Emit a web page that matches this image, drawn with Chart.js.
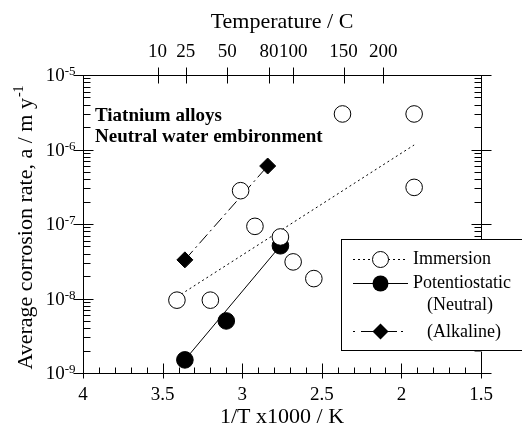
<!DOCTYPE html>
<html>
<head>
<meta charset="utf-8">
<script src="https://cdn.jsdelivr.net/npm/chart.js@4.4.0/dist/chart.umd.min.js"></script>
<style>
  body { margin: 0; background: #fff; }
  #wrap { width: 522px; height: 430px; }
</style>
</head>
<body>
<div id="wrap"><canvas id="chartCanvas" width="522" height="430"></canvas></div>
<script>
  // === Data ===
  const immersionX = [3.41, 3.20, 3.01, 2.92, 2.37, 1.92, 1.92, 2.76, 2.68, 2.55];
  const immersionY = [9.5e-9, 9.5e-9, 2.8e-7, 9.3e-8, 3.0e-6, 3.0e-6, 3.1e-7, 6.7e-8, 3.1e-8, 1.85e-8];
  const immersionFitX = [3.41, 1.92];
  const immersionFitY = [1.05e-8, 1.15e-6];
  const neutralX = [3.36, 3.10, 2.76];
  const neutralY = [1.5e-9, 5.0e-9, 5.1e-8];
  const neutralFitX = [3.36, 2.76];
  const neutralFitY = [1.5e-9, 5.1e-8];
  const alkalineX = [3.36, 2.84];
  const alkalineY = [3.3e-8, 6.0e-7];
  const tempLabels = [10, 25, 50, 80, 100, 150, 200];
  const yDecades = [-9, -8, -7, -6, -5];

  const SERIF = '"Liberation Serif", "Times New Roman", serif';
  const pts = (xs, ys) => xs.map((v, i) => ({ x: v, y: ys[i] }));

  // === Ticks, box, y labels, legend and note ===
  const decor = {
    id: 'decor',
    afterDraw(chart) {
      const { ctx, chartArea: a, scales } = chart;
      const x = scales.x, x2 = scales.x2, y = scales.y;
      const L = Math.round(a.left) + 0.5, R = Math.round(a.right) + 0.5;
      const T = Math.round(a.top) + 0.5, B = Math.round(a.bottom) + 0.5;
      const seg = (x1, y1, xx, yy) => { ctx.beginPath(); ctx.moveTo(x1, y1); ctx.lineTo(xx, yy); ctx.stroke(); };
      ctx.save();
      ctx.strokeStyle = '#000';
      ctx.lineWidth = 1;
      ctx.strokeRect(L, T, R - L, B - T);

      // y ticks both sides
      yDecades.forEach(e => {
        const py = Math.round(y.getPixelForValue(Math.pow(10, e))) + 0.5;
        seg(L - 10, py, L + 10, py);
        seg(R - 10, py, R + 10, py);
        if (e < -5) {
          for (let k = 2; k <= 9; k++) {
            const pm = Math.round(y.getPixelForValue(k * Math.pow(10, e))) + 0.5;
            seg(L, pm, L + 7, pm);
            seg(R - 7, pm, R, pm);
          }
        }
        // label 10^e
        ctx.fillStyle = '#000';
        ctx.font = '19px ' + SERIF;
        const w1 = ctx.measureText('10').width;
        ctx.font = '13px ' + SERIF;
        const sup = String(e);
        const w2 = ctx.measureText(sup).width;
        const xr = L - 8;
        ctx.textAlign = 'left';
        ctx.textBaseline = 'middle';
        ctx.font = '19px ' + SERIF;
        ctx.fillText('10', xr - w2 - w1, py + 1);
        ctx.font = '13px ' + SERIF;
        ctx.textBaseline = 'alphabetic';
        ctx.fillText(sup, xr - w2, py - 1);
      });

      // bottom ticks
      for (let i = 15; i <= 40; i++) {
        const px = Math.round(x.getPixelForValue(i / 10)) + 0.5;
        if (i % 5 === 0) seg(px, B - 10, px, B + 5);
        else seg(px, B - 6, px, B);
      }
      // top temperature ticks
      x2.ticks.forEach(t => {
        const px = Math.round(x2.getPixelForValue(t.value)) + 0.5;
        seg(px, T - 8, px, T + 8);
      });

      // y title with superscript
      ctx.save();
      ctx.translate(32, (a.top + a.bottom) / 2 + 4);
      ctx.rotate(-Math.PI / 2);
      ctx.font = '22px ' + SERIF;
      const main = 'Average corrosion rate, a / m y';
      const mw = ctx.measureText(main).width;
      ctx.font = '14px ' + SERIF;
      const sw = ctx.measureText('-1').width;
      const sx = -(mw + sw) / 2;
      ctx.textAlign = 'left';
      ctx.textBaseline = 'alphabetic';
      ctx.font = '22px ' + SERIF;
      ctx.fillText(main, sx, 0);
      ctx.font = '14px ' + SERIF;
      ctx.fillText('-1', sx + mw + 1, -9);
      ctx.restore();

      // note
      ctx.font = 'bold 19px ' + SERIF;
      ctx.textAlign = 'left';
      ctx.textBaseline = 'middle';
      ctx.fillText('Tiatnium alloys', 95, 116);
      ctx.fillText('Neutral water embironment', 95, 137);

      // legend
      ctx.fillStyle = '#fff';
      ctx.fillRect(341, 239.5, 200, 112);
      ctx.strokeRect(341.5, 239.5, 200, 111);
      const x0 = 353, x1 = 408, xc = 380.5;
      ctx.fillStyle = '#000';
      // immersion
      ctx.setLineDash([2, 3]);
      seg(x0, 259.5, x1, 259.5);
      ctx.setLineDash([]);
      ctx.beginPath(); ctx.arc(xc, 259.5, 8, 0, 2 * Math.PI);
      ctx.fillStyle = '#fff'; ctx.fill(); ctx.stroke();
      // neutral
      seg(x0, 283.5, x1, 283.5);
      ctx.beginPath(); ctx.arc(xc, 283.5, 8, 0, 2 * Math.PI);
      ctx.fillStyle = '#000'; ctx.fill();
      // alkaline
      ctx.setLineDash([2, 6, 12, 4]);
      seg(x0, 331.5, x1, 331.5);
      ctx.setLineDash([]);
      ctx.beginPath();
      ctx.moveTo(xc, 323.5); ctx.lineTo(xc + 8, 331.5); ctx.lineTo(xc, 339.5); ctx.lineTo(xc - 8, 331.5);
      ctx.closePath(); ctx.fill();

      ctx.font = '18px ' + SERIF;
      ctx.textBaseline = 'middle';
      ctx.fillText('Immersion', 413, 259);
      ctx.fillText('Potentiostatic', 413, 283);
      ctx.fillText('(Neutral)', 427, 305);
      ctx.fillText('(Alkaline)', 427, 332);
      ctx.restore();
    }
  };

  const ctx = document.getElementById('chartCanvas').getContext('2d');
  const chart = new Chart(ctx, {
    type: 'scatter',
    data: {
      datasets: [
        {
          label: 'Immersion',
          data: pts(immersionX, immersionY),
          pointStyle: 'circle',
          pointRadius: 8.3,
          backgroundColor: '#fff',
          borderColor: '#000',
          borderWidth: 1,
          order: 0
        },
        {
          label: 'Immersion fit',
          data: pts(immersionFitX, immersionFitY),
          showLine: true,
          pointRadius: 0,
          borderColor: '#000',
          borderWidth: 1,
          borderDash: [2, 3],
          order: 2
        },
        {
          label: 'Potentiostatic (Neutral)',
          data: pts(neutralX, neutralY),
          pointStyle: 'circle',
          pointRadius: 8.3,
          backgroundColor: '#000',
          borderColor: '#000',
          borderWidth: 1,
          order: 0
        },
        {
          label: 'Neutral fit',
          data: pts(neutralFitX, neutralFitY),
          showLine: true,
          pointRadius: 0,
          borderColor: '#000',
          borderWidth: 1,
          order: 2
        },
        {
          label: '(Alkaline)',
          data: pts(alkalineX, alkalineY),
          showLine: true,
          pointStyle: 'rectRot',
          pointRadius: 8,
          backgroundColor: '#000',
          borderColor: '#000',
          borderWidth: 1,
          borderDash: [12, 4, 2, 4],
          order: 1
        }
      ]
    },
    options: {
      responsive: false,
      animation: false,
      devicePixelRatio: 1,
      layout: { padding: { left: 0, right: 41, top: 0, bottom: 0 } },
      plugins: { legend: { display: false }, tooltip: { enabled: false } },
      scales: {
        x: {
          type: 'linear', position: 'bottom', reverse: true, min: 1.5, max: 4,
          grid: { display: false, drawTicks: false },
          border: { display: false },
          ticks: {
            stepSize: 0.5, color: '#000', padding: 11, maxRotation: 0, autoSkip: false,
            font: { family: SERIF, size: 19 },
            callback: v => String(Number(v.toFixed(1)))
          },
          title: { display: true, text: '1/T x1000 / K', color: '#000', font: { family: SERIF, size: 22 }, padding: { top: 0, bottom: 0 } },
          afterFit(s) { s.height = 57; }
        },
        x2: {
          type: 'linear', position: 'top', reverse: true, min: 1.5, max: 4,
          grid: { display: false, drawTicks: false },
          border: { display: false },
          afterBuildTicks(s) { s.ticks = tempLabels.map(t => ({ value: 1000 / (t + 273.15) })); },
          ticks: {
            color: '#000', padding: 12, maxRotation: 0, autoSkip: false,
            font: { family: SERIF, size: 19 },
            callback: (v, i) => String(tempLabels[i])
          },
          title: { display: true, text: 'Temperature / C', color: '#000', font: { family: SERIF, size: 22 }, padding: { top: 9, bottom: 0 } },
          afterFit(s) { s.height = 75; }
        },
        y: {
          type: 'logarithmic', position: 'left', min: 1e-9, max: 1e-5,
          grid: { display: false, drawTicks: false },
          border: { display: false },
          ticks: { display: false },
          afterFit(s) { s.width = 83; }
        }
      }
    },
    plugins: [decor]
  });
</script>
</body>
</html>
